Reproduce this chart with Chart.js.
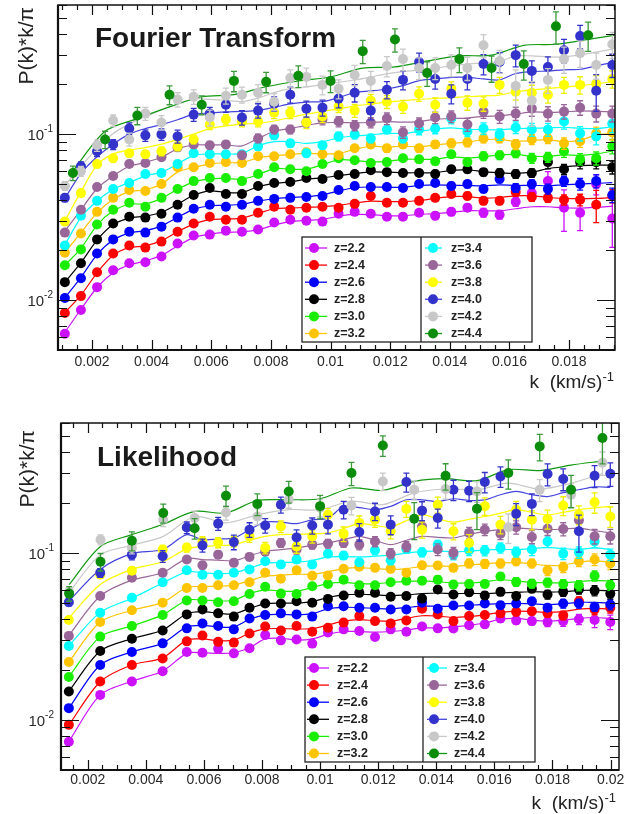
<!DOCTYPE html>
<html><head><meta charset="utf-8">
<script src="https://cdn.jsdelivr.net/npm/chart.js@4.4.1/dist/chart.umd.min.js"></script>
<style>
html,body{margin:0;padding:0;background:#fff;}
#wrap{position:relative;width:642px;height:814px;overflow:hidden;background:#fff;}
canvas{position:absolute;left:0;}
#c1{top:0;width:642px;height:400px;}
#c2{top:400px;width:642px;height:414px;}
</style></head><body>
<div id="wrap"><canvas id="c1" width="642" height="400"></canvas><canvas id="c2" width="642" height="414"></canvas></div>
<script>
// ---------- series labels & colours ----------
const zLabels = ['z=2.2','z=2.4','z=2.6','z=2.8','z=3.0','z=3.2','z=3.4','z=3.6','z=3.8','z=4.0','z=4.2','z=4.4'];
const zColors = ['#cc11ff','#ff0000','#0000ff','#000000','#19ee00','#ffc400','#00ffff','#996699','#ffff00','#3333cc','#c8c8c8','#0b8c0b'];
const lineColors = ['#cc11ff','#ff0000','#0000ff','#000000','#19ee00','#ffc400','#00ffff','#996699','#ffff00','#4444dd','#c8c8c8','#119911'];
const errColors = ['#cc11ff','#ff0000','#0000ff','#000000','#19ee00','#ffc400','#00ffff','#996699','#eeee00','#3333cc','#c8c8c8','#3a9a3a'];

// ---------- tick labels ----------
const xTickValsTop = [0.002,0.004,0.006,0.008,0.010,0.012,0.014,0.016,0.018];
const xTickLabelsTop = ['0.002','0.004','0.006','0.008','0.01','0.012','0.014','0.016','0.018'];
const xTickValsBot = [0.002,0.004,0.006,0.008,0.010,0.012,0.014,0.016,0.018,0.020];
const xTickLabelsBot = ['0.002','0.004','0.006','0.008','0.01','0.012','0.014','0.016','0.018','0.02'];
const yTickVals = [0.01,0.1];
const yTickExp = ['-2','-1'];

// ---------- TOP PANEL (Fourier Transform) ----------
const kTop = [0.00109,0.00163,0.00217,0.00271,0.00325,0.00379,0.00433,0.00487,0.00541,0.00595,0.00649,0.00703,0.00757,0.00811,0.00865,0.00919,0.00973,0.01027,0.01081,0.01135,0.01189,0.01243,0.01297,0.01351,0.01405,0.01459,0.01513,0.01567,0.01621,0.01675,0.01729,0.01783,0.01837,0.01891,0.01945];
const kTopCoarse = [0.00136,0.00244,0.00352,0.0046,0.00568,0.00676,0.00784,0.00892,0.0100,0.01108,0.01216,0.01324,0.01432,0.0154,0.01648,0.01756,0.01864];
const kTopCoarseModel = [0.00136,0.00244,0.00352,0.0046,0.00568,0.00676,0.00784,0.00892,0.0100,0.01108,0.01216,0.01324,0.01432,0.0154,0.01648,0.01756,0.01864,0.01972];

const ft22 = [0.00627,0.00871,0.01196,0.01511,0.01665,0.01688,0.0183,0.0219,0.0245,0.0248,0.0262,0.0258,0.0266,0.0293,0.0305,0.0301,0.0297,0.0331,0.0340,0.0331,0.0318,0.0318,0.0336,0.0322,0.0340,0.0360,0.0336,0.0327,0.0391,0.0441,0.0521,0.0360,0.0336,0.0500,0.0310];
const ft24 = [0.00836,0.01056,0.0147,0.0191,0.0213,0.0207,0.0225,0.0258,0.0289,0.0318,0.0305,0.0305,0.0336,0.0365,0.0350,0.0360,0.0365,0.0360,0.0380,0.0424,0.0386,0.0386,0.0396,0.0413,0.0436,0.0424,0.0396,0.0396,0.0448,0.0418,0.0413,0.0402,0.0402,0.0375,0.0424];
const ft26 = [0.0103,0.01354,0.0191,0.0232,0.0258,0.0255,0.0277,0.0314,0.0355,0.0375,0.0365,0.0375,0.0396,0.0407,0.0413,0.0418,0.0424,0.0461,0.0487,0.0480,0.0480,0.0474,0.0500,0.0507,0.0487,0.0500,0.0467,0.0536,0.0474,0.0500,0.0467,0.0521,0.0500,0.0521,0.0430];
const ft28 = [0.01282,0.01665,0.0232,0.0289,0.0318,0.0314,0.0331,0.0375,0.0430,0.0474,0.0436,0.0436,0.0487,0.0507,0.0514,0.0544,0.0536,0.0567,0.0575,0.0606,0.0590,0.0583,0.0583,0.0575,0.0614,0.0614,0.0590,0.0583,0.0575,0.0583,0.0678,0.0614,0.0678,0.0678,0.0632];
const ft30 = [0.01619,0.0202,0.0285,0.0350,0.0386,0.0365,0.0413,0.0467,0.0521,0.0544,0.0544,0.0521,0.0575,0.0632,0.0614,0.0598,0.0660,0.0716,0.0696,0.0669,0.0678,0.0716,0.0706,0.0687,0.0756,0.0678,0.0736,0.0746,0.0767,0.0716,0.0726,0.0788,0.0706,0.0716,0.0844];
const ft32 = [0.0193,0.0252,0.0340,0.0413,0.0461,0.0454,0.0500,0.0632,0.0632,0.0669,0.0678,0.0669,0.0736,0.0736,0.0756,0.0777,0.0756,0.0746,0.0821,0.0867,0.0821,0.0867,0.0821,0.0867,0.0880,0.0892,0.0942,0.0942,0.0867,0.0929,0.0942,0.0880,0.0905,0.1010,0.1024];
const ft34 = [0.0213,0.0322,0.0396,0.0467,0.0507,0.0575,0.0583,0.0660,0.0767,0.0756,0.0756,0.0756,0.0844,0.0983,0.0880,0.0767,0.0856,0.0969,0.0996,0.0942,0.1066,0.0942,0.1066,0.1081,0.1241,0.1038,0.1081,0.0996,0.1096,0.1066,0.1066,0.1190,0.1010,0.0969,0.1158];
const ft36 = [0.0255,0.0350,0.0480,0.0559,0.0660,0.0669,0.0726,0.0832,0.0867,0.0856,0.0867,0.0746,0.0942,0.1066,0.1066,0.1174,0.1224,0.1190,0.1127,0.1174,0.1241,0.1024,0.1158,0.1258,0.1276,0.1143,0.1367,0.1276,0.1329,0.1424,0.1329,0.1367,0.1444,0.1329,0.1329];
const ft38 = [0.0297,0.0441,0.0660,0.0716,0.0767,0.0756,0.0788,0.0844,0.0929,0.1143,0.1224,0.1190,0.1190,0.1348,0.1348,0.1174,0.1276,0.1464,0.1386,0.1592,0.1568,0.1464,0.1751,0.1504,0.1877,0.1547,0.1526,0.1980,0.1800,0.1775,0.1728,0.1980,0.1980,0.2008,0.2149];
const ft40 = [0.0413,0.0641,0.0788,0.0867,0.1081,0.0983,0.0996,0.0969,0.1311,0.1329,0.1504,0.1258,0.1386,0.1526,0.1728,0.1424,0.1444,0.1637,0.1775,0.1386,0.1851,0.2122,0.2720,0.2149,0.1751,0.2149,0.2645,0.2720,0.2992,0.2405,0.2539,0.3206,0.3896,0.1826,0.2611];
const ft42 = [0.0487,0.0598,0.0856,0.1207,0.0929,0.1329,0.1174,0.1614,0.1680,0.1258,0.1704,0.1728,0.1775,0.1568,0.2180,0.2213,0.1980,0.1877,0.2274,0.2093,0.2574,0.2832,0.2505,0.2505,0.2611,0.2505,0.3430,0.2758,0.1953,0.1592,0.2122,0.2832,0.3077,0.2611,0.3477];
const ft44 = [0.0583,0.0929,0.1294,0.1728,0.1504,0.2093,0.2065,0.2244,0.2093,0.3163,0.3718,0.2334,0.2832,0.2505,0.2645,0.4467,0.3941];

const ftM22 = [0.0064,0.0088,0.0119,0.0146,0.0163,0.0172,0.0186,0.0212,0.0238,0.0250,0.0256,0.0258,0.0265,0.0283,0.0297,0.0302,0.0306,0.0320,0.0328,0.0327,0.0322,0.0322,0.0328,0.0332,0.0338,0.0345,0.0345,0.0345,0.0355,0.0365,0.0365,0.0360,0.0358,0.0362,0.0368];
const ftM24 = [0.0084,0.0107,0.0146,0.0186,0.0207,0.0212,0.0228,0.0258,0.0287,0.0305,0.0308,0.0312,0.0333,0.0355,0.0358,0.0362,0.0366,0.0372,0.0385,0.0395,0.0392,0.0392,0.0398,0.0410,0.0420,0.0420,0.0412,0.0415,0.0425,0.0425,0.0415,0.0410,0.0408,0.0410,0.0415];
const ftM26 = [0.0103,0.0137,0.0188,0.0230,0.0253,0.0262,0.0280,0.0315,0.0352,0.0370,0.0372,0.0378,0.0395,0.0408,0.0415,0.0420,0.0430,0.0455,0.0475,0.0480,0.0478,0.0478,0.0490,0.0495,0.0492,0.0490,0.0488,0.0495,0.0490,0.0492,0.0488,0.0495,0.0500,0.0505,0.0510];
const ftM28 = [0.0128,0.0168,0.0230,0.0285,0.0312,0.0320,0.0338,0.0378,0.0428,0.0455,0.0445,0.0445,0.0482,0.0505,0.0515,0.0535,0.0545,0.0562,0.0578,0.0592,0.0590,0.0585,0.0585,0.0585,0.0605,0.0608,0.0595,0.0585,0.0580,0.0590,0.0620,0.0635,0.0645,0.0650,0.0650];
const ftM30 = [0.0162,0.0205,0.0283,0.0345,0.0378,0.0380,0.0410,0.0465,0.0515,0.0538,0.0540,0.0535,0.0570,0.0620,0.0615,0.0615,0.0655,0.0700,0.0695,0.0680,0.0685,0.0705,0.0705,0.0705,0.0730,0.0720,0.0730,0.0750,0.0755,0.0735,0.0735,0.0750,0.0745,0.0760,0.0790];
const ftM32 = [0.0193,0.0255,0.0335,0.0405,0.0450,0.0462,0.0500,0.0590,0.0630,0.0660,0.0672,0.0675,0.0720,0.0740,0.0755,0.0765,0.0760,0.0765,0.0810,0.0845,0.0835,0.0845,0.0840,0.0860,0.0880,0.0895,0.0925,0.0930,0.0905,0.0915,0.0925,0.0900,0.0920,0.0985,0.1010];
const ftM34 = [0.0215,0.0315,0.0395,0.0465,0.0510,0.0560,0.0590,0.0660,0.0745,0.0760,0.0760,0.0765,0.0850,0.0900,0.0900,0.0880,0.0900,0.0950,0.0975,0.0990,0.1010,0.1010,0.1040,0.1070,0.1090,0.1070,0.1065,0.1060,0.1080,0.1085,0.1090,0.1100,0.1085,0.1080,0.1110];
const ftM36 = [0.0260,0.0350,0.0470,0.0560,0.0640,0.0675,0.0725,0.0815,0.0860,0.0860,0.0860,0.0850,0.0940,0.1040,0.1080,0.1130,0.1170,0.1175,0.1170,0.1175,0.1190,0.1180,0.1190,0.1230,0.1240,0.1250,0.1280,0.1290,0.1320,0.1360,0.1350,0.1360,0.1380,0.1370,0.1360];
const ftM38 = [0.0300,0.0450,0.0650,0.0760,0.0800,0.0830,0.0870,0.0930,0.1000,0.1080,0.1120,0.1150,0.1160,0.1200,0.1260,0.1320,0.1370,0.1420,0.1480,0.1520,0.1560,0.1590,0.1620,0.1640,0.1660,0.1680,0.1700,0.1720,0.1800,0.1850,0.1880,0.1920,0.1960,0.2010,0.2070];
const ftM40 = [0.041,0.058,0.073,0.087,0.100,0.108,0.114,0.122,0.132,0.134,0.136,0.137,0.139,0.145,0.152,0.156,0.157,0.166,0.178,0.182,0.187,0.196,0.210,0.215,0.220,0.220,0.215,0.212,0.232,0.238,0.240,0.244,0.246,0.258,0.270];
const ftM42 = [0.049,0.064,0.082,0.101,0.115,0.128,0.140,0.152,0.163,0.162,0.160,0.157,0.165,0.178,0.188,0.193,0.198,0.205,0.212,0.221,0.231,0.238,0.244,0.250,0.258,0.264,0.270,0.274,0.296,0.296,0.292,0.292,0.300,0.312,0.325];
const ftM44 = [0.060,0.104,0.124,0.146,0.168,0.173,0.193,0.209,0.221,0.250,0.254,0.276,0.296,0.299,0.343,0.348,0.372,0.400];

// relative errors
const ftE22 = [0.02,0.02,0.02,0.02,0.02,0.02,0.02,0.02,0.03,0.03,0.03,0.03,0.03,0.03,0.03,0.03,0.03,0.04,0.04,0.04,0.04,0.04,0.04,0.05,0.05,0.05,0.06,0.06,0.06,0.10,0.14,0.28,0.22,0.14,0.33];
const ftE24 = [0.02,0.02,0.02,0.02,0.02,0.02,0.02,0.02,0.03,0.03,0.03,0.03,0.03,0.03,0.03,0.03,0.03,0.04,0.04,0.04,0.04,0.04,0.04,0.04,0.05,0.05,0.05,0.05,0.06,0.06,0.06,0.07,0.08,0.22,0.09];
const ftE26 = [0.02,0.02,0.02,0.02,0.02,0.02,0.02,0.02,0.03,0.03,0.03,0.03,0.03,0.03,0.03,0.03,0.03,0.04,0.04,0.04,0.04,0.04,0.04,0.04,0.05,0.05,0.05,0.05,0.06,0.06,0.07,0.07,0.08,0.09,0.10];
const ftE28 = [0.02,0.02,0.02,0.02,0.02,0.02,0.02,0.03,0.03,0.03,0.03,0.03,0.03,0.03,0.03,0.03,0.04,0.04,0.04,0.04,0.04,0.04,0.04,0.05,0.05,0.05,0.05,0.06,0.06,0.06,0.09,0.07,0.09,0.09,0.09];
const ftE30 = [0.02,0.02,0.02,0.02,0.02,0.02,0.02,0.03,0.03,0.03,0.03,0.03,0.03,0.03,0.03,0.04,0.04,0.04,0.04,0.04,0.04,0.04,0.05,0.05,0.05,0.05,0.06,0.06,0.06,0.07,0.07,0.08,0.08,0.09,0.10];
const ftE32 = [0.02,0.02,0.02,0.03,0.03,0.03,0.03,0.03,0.03,0.03,0.03,0.03,0.04,0.04,0.04,0.04,0.04,0.04,0.04,0.05,0.05,0.05,0.05,0.05,0.06,0.06,0.06,0.06,0.07,0.07,0.07,0.08,0.08,0.09,0.10];
const ftE34 = [0.03,0.03,0.03,0.03,0.03,0.03,0.04,0.04,0.04,0.04,0.04,0.04,0.05,0.05,0.05,0.05,0.05,0.06,0.06,0.06,0.06,0.06,0.07,0.07,0.07,0.07,0.08,0.08,0.08,0.09,0.09,0.10,0.10,0.11,0.12];
const ftE36 = [0.03,0.03,0.03,0.04,0.04,0.04,0.04,0.05,0.05,0.05,0.05,0.05,0.06,0.06,0.06,0.06,0.07,0.07,0.07,0.07,0.08,0.08,0.08,0.08,0.08,0.09,0.09,0.09,0.09,0.10,0.10,0.10,0.10,0.11,0.11];
const ftE38 = [0.04,0.04,0.05,0.05,0.05,0.05,0.06,0.06,0.06,0.07,0.07,0.07,0.07,0.08,0.08,0.08,0.08,0.08,0.09,0.09,0.09,0.09,0.10,0.10,0.10,0.10,0.10,0.11,0.11,0.11,0.11,0.11,0.12,0.12,0.12];
const ftE40 = [0.05,0.06,0.07,0.07,0.08,0.08,0.08,0.09,0.09,0.09,0.10,0.10,0.10,0.10,0.11,0.11,0.11,0.12,0.12,0.12,0.12,0.13,0.13,0.13,0.13,0.14,0.14,0.14,0.15,0.15,0.15,0.16,0.16,0.25,0.16];
const ftE42 = [0.06,0.07,0.08,0.08,0.09,0.09,0.10,0.10,0.10,0.11,0.11,0.11,0.12,0.12,0.12,0.13,0.13,0.13,0.14,0.14,0.14,0.15,0.15,0.15,0.15,0.16,0.16,0.16,0.25,0.30,0.17,0.18,0.18,0.18,0.18];
const ftE44 = [0.10,0.12,0.12,0.13,0.13,0.14,0.14,0.15,0.15,0.16,0.16,0.17,0.17,0.18,0.20,0.22,0.20];

// ---------- BOTTOM PANEL (Likelihood) ----------
const kBot = [0.00135,0.00243,0.00352,0.00458,0.00541,0.00595,0.00649,0.00703,0.00757,0.00811,0.00865,0.00919,0.00973,0.01027,0.01081,0.01135,0.01189,0.01243,0.01297,0.01351,0.01405,0.01459,0.01513,0.01567,0.01621,0.01675,0.01729,0.01783,0.01837,0.01891,0.01945,0.01999];
const kBotCoarse = [0.00136,0.00244,0.00352,0.0046,0.00568,0.00676,0.00784,0.00892,0.0100,0.01108,0.01216,0.01324,0.01432,0.0154,0.01648,0.01756,0.01864,0.01972];

const lk22 = [0.00738,0.01409,0.01694,0.01954,0.0255,0.0252,0.0266,0.0250,0.0268,0.0322,0.0299,0.0303,0.0286,0.0333,0.0348,0.0340,0.0313,0.0348,0.0337,0.0362,0.0353,0.0352,0.0368,0.0373,0.0404,0.0394,0.0390,0.0385,0.0390,0.0400,0.0396,0.0385];
const lk24 = [0.00932,0.01694,0.0213,0.0233,0.0295,0.0320,0.0293,0.0290,0.0329,0.0362,0.0343,0.0365,0.0337,0.0356,0.0382,0.0418,0.0390,0.0378,0.0394,0.0463,0.0428,0.0390,0.0418,0.0424,0.0434,0.0443,0.0447,0.0434,0.0422,0.0513,0.0458,0.0469];
const lk26 = [0.01174,0.0213,0.0255,0.0287,0.0353,0.0377,0.0365,0.0348,0.0404,0.0424,0.0434,0.0428,0.0415,0.0479,0.0479,0.0469,0.0469,0.0458,0.0458,0.0502,0.0463,0.0484,0.0484,0.0497,0.0486,0.0497,0.0513,0.0469,0.0497,0.0497,0.0475,0.0490];
const lk28 = [0.01478,0.0258,0.0306,0.0343,0.0428,0.0458,0.0434,0.0415,0.0469,0.0497,0.0497,0.0513,0.0502,0.0530,0.0555,0.0576,0.0576,0.0546,0.0551,0.0532,0.0603,0.0563,0.0581,0.0555,0.0584,0.0551,0.0609,0.0563,0.0584,0.0603,0.0594,0.0570];
const lk30 = [0.01805,0.0315,0.0365,0.0424,0.0518,0.0518,0.0506,0.0513,0.0567,0.0626,0.0570,0.0567,0.0631,0.0651,0.0691,0.0640,0.0640,0.0666,0.0681,0.0681,0.0691,0.0646,0.0651,0.0651,0.0722,0.0670,0.0654,0.0664,0.0651,0.0637,0.0729,0.0640];
const lk32 = [0.0222,0.0385,0.0453,0.0502,0.0616,0.0616,0.0640,0.0640,0.0666,0.0760,0.0700,0.0787,0.0729,0.0732,0.0802,0.0826,0.0814,0.0802,0.0760,0.0843,0.0840,0.0814,0.0864,0.0860,0.0864,0.0891,0.0864,0.0787,0.0820,0.0891,0.0912,0.0864];
const lk34 = [0.0277,0.0438,0.0538,0.0666,0.0787,0.0740,0.0740,0.0760,0.0796,0.0891,0.0852,0.0912,0.0852,0.0989,0.0963,0.0879,0.1036,0.0903,0.1056,0.1007,0.1120,0.0976,0.1036,0.1032,0.1071,0.1013,0.1047,0.1170,0.0989,0.1007,0.1170,0.0976];
const lk36 = [0.0318,0.0551,0.0710,0.0760,0.0912,0.0843,0.0976,0.0872,0.0946,0.1017,0.1147,0.1047,0.1120,0.1136,0.1147,0.1120,0.1170,0.0989,0.1093,0.1438,0.1047,0.1000,0.1317,0.1377,0.1304,0.1425,0.1246,0.1396,0.1390,0.1567,0.1256,0.1256];
const lk38 = [0.0396,0.0740,0.0782,0.1047,0.1076,0.1170,0.1154,0.1170,0.1256,0.1071,0.1438,0.1093,0.1256,0.1691,0.1299,0.1512,0.1578,0.1346,0.1834,0.1377,0.1945,0.1346,0.1147,0.1905,0.1476,0.1815,0.1578,0.1594,0.1920,0.1691,0.2009,0.1652];
const lk40 = [0.0506,0.0760,0.0976,0.0954,0.1418,0.1109,0.1497,0.1160,0.1377,0.1457,0.1945,0.1238,0.1457,0.1476,0.1815,0.1335,0.1771,0.1476,0.2658,0.1791,0.1616,0.2389,0.2356,0.2658,0.2870,0.1714,0.1965,0.2967,0.2771,0.1346,0.2898,0.2981];
const lk42 = [0.0584,0.1199,0.1071,0.1578,0.1616,0.1744,0.1652,0.2080,0.1864,0.1920,0.2680,0.2389,0.2413,0.2334,0.1425,0.2389,0.2231,0.3467];
const lk44 = [0.0570,0.0885,0.1183,0.1733,0.1405,0.2200,0.1965,0.2334,0.1905,0.3008,0.4404,0.1601,0.2898,0.1838,0.3008,0.4345,0.2389,0.4879];

const lkM22 = [0.0074,0.0141,0.0170,0.0196,0.0250,0.0252,0.0250,0.0252,0.0270,0.0305,0.0308,0.0300,0.0305,0.0325,0.0338,0.0338,0.0335,0.0338,0.0345,0.0355,0.0355,0.0360,0.0368,0.0380,0.0400,0.0405,0.0395,0.0390,0.0395,0.0405,0.0410,0.0405];
const lkM24 = [0.0093,0.0169,0.0213,0.0235,0.0300,0.0305,0.0298,0.0300,0.0330,0.0350,0.0352,0.0350,0.0352,0.0370,0.0390,0.0398,0.0392,0.0390,0.0405,0.0420,0.0418,0.0410,0.0415,0.0425,0.0440,0.0448,0.0445,0.0440,0.0445,0.0460,0.0465,0.0460];
const lkM26 = [0.0117,0.0213,0.0255,0.0288,0.0360,0.0368,0.0360,0.0360,0.0400,0.0425,0.0428,0.0425,0.0432,0.0462,0.0472,0.0470,0.0465,0.0462,0.0470,0.0480,0.0478,0.0478,0.0485,0.0492,0.0495,0.0498,0.0495,0.0490,0.0495,0.0505,0.0505,0.0500];
const lkM28 = [0.0148,0.0258,0.0306,0.0345,0.0432,0.0445,0.0435,0.0430,0.0465,0.0495,0.0500,0.0500,0.0510,0.0540,0.0560,0.0565,0.0560,0.0555,0.0560,0.0570,0.0575,0.0570,0.0572,0.0570,0.0575,0.0580,0.0585,0.0582,0.0585,0.0595,0.0598,0.0592];
const lkM30 = [0.0181,0.0315,0.0365,0.0425,0.0520,0.0522,0.0515,0.0520,0.0570,0.0600,0.0590,0.0590,0.0620,0.0655,0.0665,0.0655,0.0652,0.0665,0.0675,0.0680,0.0672,0.0660,0.0660,0.0670,0.0690,0.0680,0.0665,0.0662,0.0662,0.0672,0.0685,0.0675];
const lkM32 = [0.0222,0.0385,0.0453,0.0505,0.0620,0.0628,0.0632,0.0640,0.0680,0.0725,0.0735,0.0745,0.0745,0.0770,0.0805,0.0815,0.0805,0.0795,0.0805,0.0830,0.0835,0.0830,0.0845,0.0860,0.0870,0.0875,0.0860,0.0840,0.0845,0.0880,0.0895,0.0880];
const lkM34 = [0.0277,0.0440,0.0535,0.0660,0.0770,0.0760,0.0750,0.0760,0.0810,0.0865,0.0875,0.0880,0.0900,0.0945,0.0950,0.0945,0.0955,0.0970,0.0995,0.1020,0.1025,0.1015,0.1025,0.1040,0.1050,0.1045,0.1060,0.1080,0.1060,0.1050,0.1070,0.1050];
const lkM36 = [0.0320,0.0551,0.0686,0.0760,0.0924,0.0912,0.0905,0.0896,0.0960,0.1023,0.1045,0.1071,0.1110,0.1147,0.1200,0.1256,0.1190,0.1120,0.1190,0.1256,0.1240,0.1229,0.1290,0.1346,0.1380,0.1405,0.1390,0.1377,0.1390,0.1405,0.1360,0.1317];
const lkM38 = [0.0407,0.0646,0.0796,0.0885,0.1056,0.1093,0.1105,0.1120,0.1190,0.1256,0.1286,0.1290,0.1300,0.1317,0.1400,0.1497,0.1460,0.1425,0.1560,0.1691,0.1600,0.1530,0.1590,0.1652,0.1730,0.1815,0.1750,0.1691,0.1750,0.1815,0.1860,0.1900];
const lkM40 = [0.0514,0.0796,0.0989,0.1047,0.1286,0.1199,0.1210,0.1229,0.1377,0.1530,0.1530,0.1497,0.1578,0.1616,0.1895,0.1867,0.1815,0.1900,0.2080,0.2080,0.2030,0.2110,0.2059,0.2080,0.2231,0.2334,0.2231,0.2174,0.2294,0.2389,0.2487,0.2467];
const lkM42 = [0.0580,0.0976,0.1110,0.1256,0.1652,0.1513,0.1691,0.1815,0.1815,0.2041,0.1945,0.2286,0.2413,0.2389,0.2614,0.2413,0.2614,0.2981];
const lkM44 = [0.0646,0.1093,0.1286,0.1485,0.1771,0.1733,0.2059,0.2080,0.2110,0.2448,0.2368,0.2680,0.2783,0.2706,0.3156,0.3113,0.3358,0.3550];

const lkE22 = [0.02,0.02,0.02,0.02,0.02,0.02,0.02,0.02,0.03,0.03,0.03,0.03,0.03,0.03,0.03,0.03,0.03,0.03,0.04,0.04,0.04,0.04,0.04,0.04,0.05,0.05,0.05,0.06,0.07,0.07,0.10,0.10];
const lkE24 = [0.02,0.02,0.02,0.02,0.02,0.02,0.02,0.02,0.03,0.03,0.03,0.03,0.03,0.03,0.03,0.03,0.03,0.03,0.04,0.04,0.04,0.04,0.04,0.04,0.05,0.05,0.05,0.05,0.06,0.06,0.07,0.07];
const lkE26 = [0.02,0.02,0.02,0.02,0.02,0.02,0.02,0.02,0.03,0.03,0.03,0.03,0.03,0.03,0.03,0.03,0.03,0.03,0.04,0.04,0.04,0.04,0.04,0.04,0.05,0.05,0.05,0.05,0.06,0.06,0.06,0.07];
const lkE28 = [0.02,0.02,0.02,0.02,0.02,0.02,0.02,0.03,0.03,0.03,0.03,0.03,0.03,0.03,0.03,0.03,0.04,0.04,0.04,0.04,0.04,0.04,0.05,0.05,0.05,0.05,0.05,0.06,0.06,0.06,0.07,0.07];
const lkE30 = [0.02,0.02,0.02,0.02,0.02,0.02,0.03,0.03,0.03,0.03,0.03,0.03,0.03,0.03,0.04,0.04,0.04,0.04,0.04,0.04,0.05,0.05,0.05,0.05,0.05,0.06,0.06,0.06,0.06,0.07,0.07,0.07];
const lkE32 = [0.02,0.02,0.02,0.03,0.03,0.03,0.03,0.03,0.03,0.03,0.04,0.04,0.04,0.04,0.04,0.04,0.05,0.05,0.05,0.05,0.05,0.05,0.06,0.06,0.06,0.06,0.06,0.07,0.07,0.07,0.08,0.08];
const lkE34 = [0.03,0.03,0.03,0.03,0.03,0.04,0.04,0.04,0.04,0.04,0.05,0.05,0.05,0.05,0.05,0.05,0.06,0.06,0.06,0.06,0.06,0.07,0.07,0.07,0.07,0.07,0.08,0.08,0.08,0.08,0.08,0.08];
const lkE36 = [0.03,0.03,0.04,0.04,0.04,0.05,0.05,0.05,0.05,0.05,0.06,0.06,0.06,0.06,0.06,0.07,0.07,0.07,0.07,0.07,0.08,0.08,0.08,0.08,0.08,0.09,0.09,0.09,0.09,0.10,0.10,0.10];
const lkE38 = [0.04,0.05,0.05,0.06,0.06,0.07,0.07,0.07,0.08,0.08,0.08,0.09,0.09,0.09,0.10,0.10,0.10,0.10,0.11,0.11,0.11,0.11,0.12,0.12,0.12,0.12,0.13,0.13,0.13,0.13,0.14,0.14];
const lkE40 = [0.05,0.06,0.07,0.08,0.08,0.09,0.09,0.10,0.10,0.10,0.11,0.11,0.11,0.12,0.12,0.12,0.12,0.13,0.13,0.13,0.13,0.14,0.14,0.14,0.14,0.15,0.15,0.15,0.15,0.25,0.15,0.16];
const lkE42 = [0.06,0.07,0.08,0.09,0.10,0.10,0.11,0.11,0.12,0.12,0.12,0.13,0.13,0.14,0.20,0.15,0.16,0.16];
const lkE44 = [0.10,0.12,0.13,0.13,0.14,0.14,0.15,0.15,0.16,0.16,0.14,0.25,0.18,0.25,0.20,0.18,0.22,0.30];

// ---------- assembling ----------
const ftPts = [ft22,ft24,ft26,ft28,ft30,ft32,ft34,ft36,ft38,ft40,ft42,ft44];
const ftMod = [ftM22,ftM24,ftM26,ftM28,ftM30,ftM32,ftM34,ftM36,ftM38,ftM40,ftM42,ftM44];
const ftErr = [ftE22,ftE24,ftE26,ftE28,ftE30,ftE32,ftE34,ftE36,ftE38,ftE40,ftE42,ftE44];
const ftK = [kTop,kTop,kTop,kTop,kTop,kTop,kTop,kTop,kTop,kTop,kTop,kTopCoarse];
const ftKM = [kTop,kTop,kTop,kTop,kTop,kTop,kTop,kTop,kTop,kTop,kTop,kTopCoarseModel];

const lkPts = [lk22,lk24,lk26,lk28,lk30,lk32,lk34,lk36,lk38,lk40,lk42,lk44];
const lkMod = [lkM22,lkM24,lkM26,lkM28,lkM30,lkM32,lkM34,lkM36,lkM38,lkM40,lkM42,lkM44];
const lkErr = [lkE22,lkE24,lkE26,lkE28,lkE30,lkE32,lkE34,lkE36,lkE38,lkE40,lkE42,lkE44];
const lkK = [kBot,kBot,kBot,kBot,kBot,kBot,kBot,kBot,kBot,kBot,kBotCoarse,kBotCoarse];

const FONT = "'Liberation Sans', Arial, Helvetica, sans-serif";

function buildDatasets(pts, mods, errs, ks, kms) {
  const ds = [];
  for (let s = 0; s < pts.length; s++) {
    ds.push({
      type: 'line', label: zLabels[s] + ' model',
      data: mods[s].map((v, i) => ({x: kms[s][i], y: v})),
      borderColor: lineColors[s], borderWidth: 1.2, pointRadius: 0,
      tension: 0.3, fill: false, order: 100 + (11 - s), isModel: true
    });
    ds.push({
      type: 'line', label: zLabels[s], showLine: false,
      data: pts[s].map((v, i) => ({x: ks[s][i], y: v})),
      errs: errs[s], errColor: errColors[s],
      backgroundColor: zColors[s], borderColor: zColors[s], borderWidth: 0,
      pointRadius: 5, pointHoverRadius: 5, pointStyle: 'circle',
      order: 11 - s
    });
  }
  return ds;
}

function supText(ctx, base, sup, xRight, yMid, fBase, fSup, supDy) {
  ctx.font = fBase; const wb = ctx.measureText(base).width;
  ctx.font = fSup; const ws = ctx.measureText(sup).width;
  ctx.textBaseline = 'middle'; ctx.textAlign = 'left';
  ctx.font = fBase; ctx.fillText(base, xRight - ws - wb, yMid);
  ctx.font = fSup; ctx.fillText(sup, xRight - ws, yMid + supDy);
}

function makePlugin(cfg) {
  return {
    id: 'rootStyle',
    beforeDatasetDraw(chart, args) {
      const ds = chart.data.datasets[args.index];
      if (!ds.errs) return;
      const ctx = chart.ctx, xs = chart.scales.x, ys = chart.scales.y, ca = chart.chartArea;
      ctx.save();
      ctx.beginPath(); ctx.rect(ca.left, ca.top, ca.right - ca.left, ca.bottom - ca.top); ctx.clip();
      ctx.strokeStyle = ds.errColor; ctx.lineWidth = 1.3;
      ds.data.forEach((p, i) => {
        const e = ds.errs[i] * p.y;
        const px = xs.getPixelForValue(p.x);
        const y1 = ys.getPixelForValue(p.y + e);
        const y2 = ys.getPixelForValue(Math.max(p.y - e, 1e-4));
        ctx.beginPath();
        ctx.moveTo(px, y1); ctx.lineTo(px, y2);
        ctx.moveTo(px - 3, y1); ctx.lineTo(px + 3, y1);
        ctx.moveTo(px - 3, y2); ctx.lineTo(px + 3, y2);
        ctx.stroke();
      });
      ctx.restore();
    },
    afterDraw(chart) {
      const ctx = chart.ctx, xs = chart.scales.x, ys = chart.scales.y, ca = chart.chartArea;
      ctx.save();
      ctx.strokeStyle = '#111';
      // ticks x
      ctx.lineWidth = 1.2;
      for (let m = 1; m <= 42; m++) {
        const v = m * 0.0005;
        if (v < xs.min || v > xs.max) continue;
        const px = Math.round(xs.getPixelForValue(v)) + 0.5;
        const len = (m % 4 === 0) ? 10 : 5;
        ctx.beginPath();
        ctx.moveTo(px, ca.bottom); ctx.lineTo(px, ca.bottom - len);
        ctx.moveTo(px, ca.top); ctx.lineTo(px, ca.top + len);
        ctx.stroke();
      }
      // ticks y
      for (let e = -3; e <= 0; e++) {
        for (let m = 1; m <= 9; m++) {
          const v = m * Math.pow(10, e);
          if (v < ys.min * 0.999 || v > ys.max * 1.001) continue;
          const py = Math.round(ys.getPixelForValue(v)) + 0.5;
          const len = (m === 1) ? 18 : 9;
          ctx.beginPath();
          ctx.moveTo(ca.left, py); ctx.lineTo(ca.left + len, py);
          ctx.moveTo(ca.right, py); ctx.lineTo(ca.right - len, py);
          ctx.stroke();
        }
      }
      // frame
      ctx.lineWidth = 1.5;
      ctx.strokeRect(ca.left, ca.top, ca.right - ca.left, ca.bottom - ca.top);
      ctx.lineWidth = 2.2;
      ctx.beginPath();
      ctx.moveTo(ca.left, ca.top); ctx.lineTo(ca.left, ca.bottom); ctx.lineTo(ca.right, ca.bottom);
      ctx.stroke();

      // x tick labels
      ctx.fillStyle = '#2a2a2a';
      ctx.font = '14px ' + FONT; ctx.textAlign = 'center'; ctx.textBaseline = 'middle';
      cfg.xVals.forEach((v, i) => ctx.fillText(cfg.xLabels[i], xs.getPixelForValue(v), cfg.xLabelY));
      // y tick labels
      yTickVals.forEach((v, i) => {
        supText(ctx, '10', yTickExp[i], cfg.yLabelRight, ys.getPixelForValue(v) + 2,
          '15px ' + FONT, '10px ' + FONT, -7);
      });
      // y axis title
      ctx.save();
      ctx.translate(cfg.yTitleX, cfg.yTitleTop);
      ctx.rotate(-Math.PI / 2);
      ctx.font = '21px ' + FONT; ctx.textAlign = 'right'; ctx.textBaseline = 'middle';
      ctx.fillStyle = '#222';
      ctx.fillText('P(k)*k/\u03C0', 0, 0);
      ctx.restore();
      // x axis title
      ctx.fillStyle = '#222';
      supText(ctx, 'k  (km/s)', '-1', cfg.xTitleRight, cfg.xTitleY, '19px ' + FONT, '13px ' + FONT, -6);
      // panel title
      ctx.font = 'bold 28px ' + FONT; ctx.textAlign = 'left'; ctx.textBaseline = 'alphabetic';
      ctx.fillStyle = '#1a1a1a';
      ctx.fillText(cfg.title, cfg.titleX, cfg.titleY);

      // legend
      const L = cfg.legend;
      ctx.fillStyle = '#fff';
      ctx.fillRect(L.x, L.y, L.w, L.h);
      ctx.strokeStyle = '#222'; ctx.lineWidth = 1.3;
      ctx.strokeRect(L.x, L.y, L.w, L.h);
      ctx.beginPath(); ctx.moveTo(L.div, L.y); ctx.lineTo(L.div, L.y + L.h); ctx.stroke();
      for (let s = 0; s < 12; s++) {
        const col = s < 6 ? L.c0 : L.c1;
        const y = L.row0 + (s % 6) * L.dy;
        ctx.strokeStyle = lineColors[s]; ctx.lineWidth = 1.3;
        ctx.beginPath(); ctx.moveTo(col.l0, y); ctx.lineTo(col.l1, y); ctx.stroke();
        ctx.fillStyle = zColors[s];
        ctx.beginPath(); ctx.arc(col.m, y, 5, 0, Math.PI * 2); ctx.fill();
        ctx.fillStyle = '#222';
        ctx.font = 'bold 12.5px ' + FONT; ctx.textAlign = 'left'; ctx.textBaseline = 'middle';
        ctx.fillText(zLabels[s], col.t, y + 0.5);
      }
      ctx.restore();
    }
  };
}

function makeChart(id, datasets, xr, pad, cfg) {
  return new Chart(document.getElementById(id), {
    type: 'line',
    data: { datasets },
    options: {
      responsive: false, animation: false, devicePixelRatio: 1,
      layout: { padding: pad },
      plugins: { legend: { display: false }, tooltip: { enabled: false }, title: { display: false } },
      scales: {
        x: { type: 'linear', min: xr[0], max: xr[1], display: false },
        y: { type: 'logarithmic', min: 0.005, max: 0.6, display: false }
      }
    },
    plugins: [makePlugin(cfg)]
  });
}

makeChart('c1', buildDatasets(ftPts, ftMod, ftErr, ftK, ftKM), [0.00086, 0.01954],
  {left: 58, right: 27, top: 3, bottom: 50},
  { xVals: xTickValsTop, xLabels: xTickLabelsTop, xLabelY: 362, yLabelRight: 53,
    yTitleX: 27, yTitleTop: 7, xTitleRight: 614, xTitleY: 383,
    title: 'Fourier Transform', titleX: 95, titleY: 47,
    legend: { x: 302, y: 237, w: 230, h: 105, div: 421, row0: 248, dy: 17.1,
      c0: {l0: 305, l1: 327, m: 314, t: 334}, c1: {l0: 425, l1: 442, m: 433, t: 451} } });

makeChart('c2', buildDatasets(lkPts, lkMod, lkErr, lkK, lkK), [0.00108, 0.02029],
  {left: 61, right: 23, top: 23, bottom: 44},
  { xVals: xTickValsBot, xLabels: xTickLabelsBot, xLabelY: 380, yLabelRight: 54,
    yTitleX: 28, yTitleTop: 30, xTitleRight: 616, xTitleY: 404,
    title: 'Likelihood', titleX: 97, titleY: 66,
    legend: { x: 305, y: 257, w: 230, h: 105, div: 423, row0: 268, dy: 17.1,
      c0: {l0: 307, l1: 329, m: 314, t: 337}, c1: {l0: 427, l1: 447, m: 434, t: 454} } });
</script>
</body></html>
